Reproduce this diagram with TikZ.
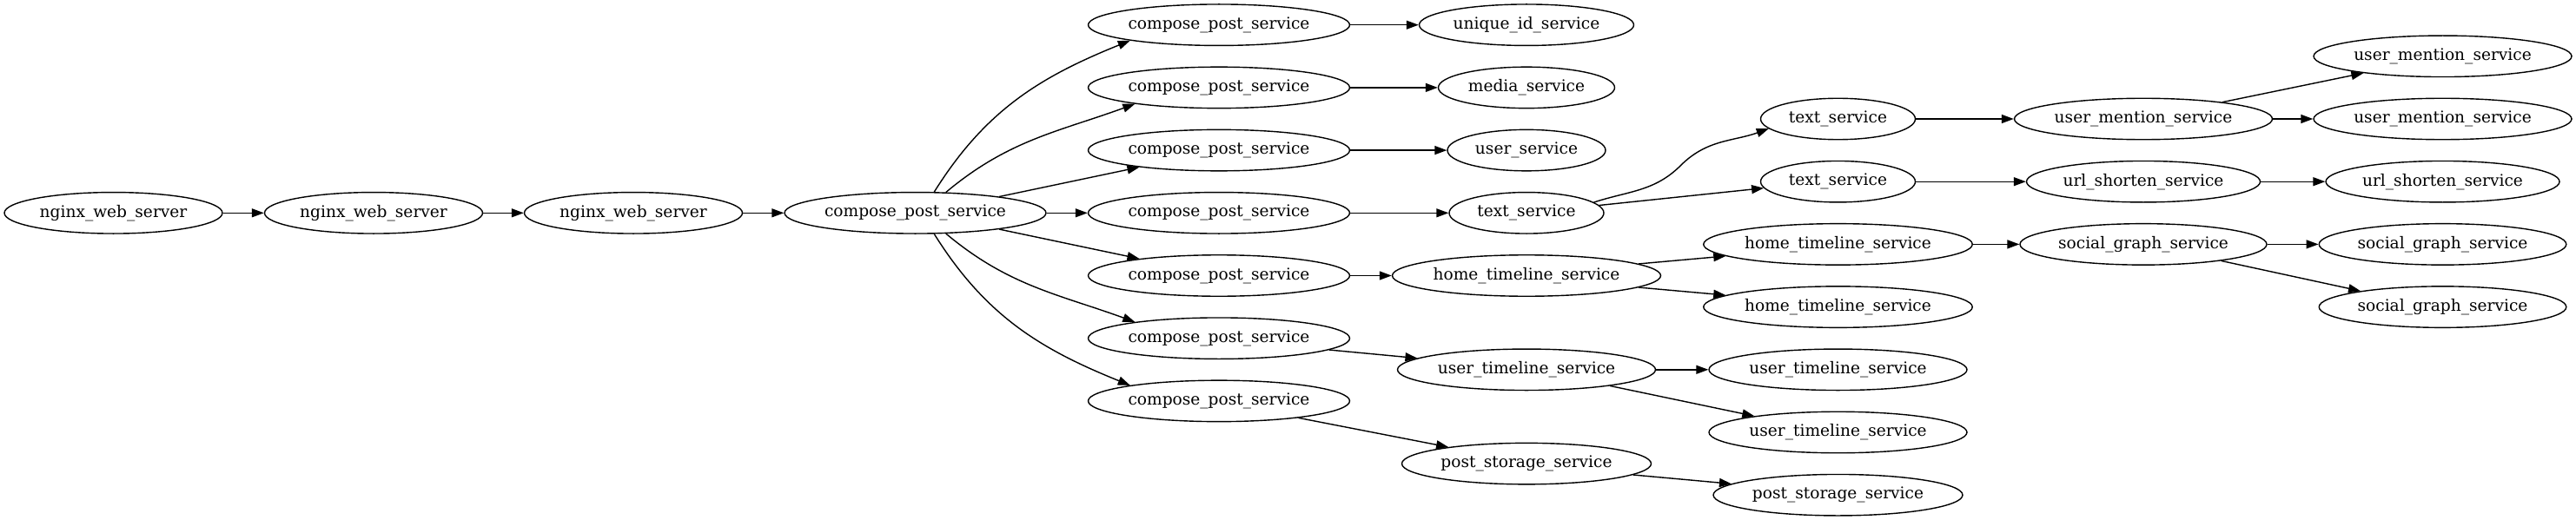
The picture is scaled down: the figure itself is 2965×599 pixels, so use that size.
\documentclass[tikz,border=0pt]{standalone}
\usepackage{fontspec}
\setmainfont{DejaVu Serif}
\usetikzlibrary{shapes.geometric,arrows.meta}

\begin{document}
\begin{tikzpicture}[x=0.5pt,y=0.5pt,
    svc/.style={draw,ellipse,inner sep=0pt,minimum height=23.75pt,line width=0.7pt,
      font=\fontsize{9.3}{11}\selectfont},
    link/.style={line width=0.7pt,-{Triangle[length=7pt,width=5pt]}}]
  \useasboundingbox (0,0) rectangle (2965,-599);

  %% nginx chain
  \node[svc,minimum width=125.5pt] (ngxA) at (130.5,-245.3) {nginx\_web\_server};
  \node[svc,minimum width=125.5pt] (ngxB) at (430,-245.3) {nginx\_web\_server};
  \node[svc,minimum width=125.5pt] (ngxC) at (729,-245.3) {nginx\_web\_server};
  \node[svc,minimum width=150.5pt] (cps) at (1053.5,-245.3) {compose\_post\_service};

  %% compose_post_service fan out
  \node[svc,minimum width=150.5pt] (cps1) at (1403,-28.7) {compose\_post\_service};
  \node[svc,minimum width=150.5pt] (cps2) at (1403,-100.9) {compose\_post\_service};
  \node[svc,minimum width=150.5pt] (cps3) at (1403,-173.1) {compose\_post\_service};
  \node[svc,minimum width=150.5pt] (cps4) at (1403,-245.3) {compose\_post\_service};
  \node[svc,minimum width=150.5pt] (cps5) at (1403,-317.5) {compose\_post\_service};
  \node[svc,minimum width=150.5pt] (cps6) at (1403,-389.7) {compose\_post\_service};
  \node[svc,minimum width=150.5pt] (cps7) at (1403,-461.9) {compose\_post\_service};

  %% services called by compose_post_service
  \node[svc,minimum width=123.5pt] (uid) at (1757,-28.7) {unique\_id\_service};
  \node[svc,minimum width=101.5pt] (media) at (1757,-100.9) {media\_service};
  \node[svc,minimum width=91pt] (user) at (1757,-173.1) {user\_service};
  \node[svc,minimum width=89pt] (text) at (1757,-245.3) {text\_service};
  \node[svc,minimum width=154.5pt] (htl) at (1757,-317.5) {home\_timeline\_service};
  \node[svc,minimum width=148.5pt] (utl) at (1757,-425.8) {user\_timeline\_service};
  \node[svc,minimum width=143.5pt] (ps) at (1757,-534.1) {post\_storage\_service};

  %% next level
  \node[svc,minimum width=89pt] (text1) at (2115.5,-137) {text\_service};
  \node[svc,minimum width=89pt] (text2) at (2115.5,-209.2) {text\_service};
  \node[svc,minimum width=154.75pt] (htl1) at (2115.5,-281.4) {home\_timeline\_service};
  \node[svc,minimum width=154.75pt] (htl2) at (2115.5,-353.6) {home\_timeline\_service};
  \node[svc,minimum width=148.5pt] (utl1) at (2115.5,-425.8) {user\_timeline\_service};
  \node[svc,minimum width=148.5pt] (utl2) at (2115.5,-498) {user\_timeline\_service};
  \node[svc,minimum width=143.5pt] (ps2) at (2115.5,-570.2) {post\_storage\_service};

  \node[svc,minimum width=148.5pt] (um) at (2467,-137) {user\_mention\_service};
  \node[svc,minimum width=134.5pt] (url) at (2467,-209.2) {url\_shorten\_service};
  \node[svc,minimum width=142pt] (sg) at (2467,-281.4) {social\_graph\_service};

  \node[svc,minimum width=148.5pt] (um1) at (2811.5,-64.8) {user\_mention\_service};
  \node[svc,minimum width=148.5pt] (um2) at (2811.5,-137) {user\_mention\_service};
  \node[svc,minimum width=134.5pt] (url2) at (2811.5,-209.2) {url\_shorten\_service};
  \node[svc,minimum width=142.3pt] (sg1) at (2811.5,-281.4) {social\_graph\_service};
  \node[svc,minimum width=142.3pt] (sg2) at (2811.5,-353.6) {social\_graph\_service};

  %% edges
  \draw[link] (ngxA) -- (ngxB);
  \draw[link] (ngxB) -- (ngxC);
  \draw[link] (ngxC) -- (cps);

  \draw[link] (cps.48) to[out=58,in=202] (cps1.190);
  \draw[link] (cps.34) to[out=40,in=200] (cps2.191);
  \draw[link] (cps.11) -- (cps3.192);
  \draw[link] (cps) -- (cps4);
  \draw[link] (cps.-11) -- (cps5.168);
  \draw[link] (cps.-34) to[out=-40,in=160] (cps6.169);
  \draw[link] (cps.-48) to[out=-58,in=158] (cps7.170);

  \draw[link] (cps1) -- (uid);
  \draw[link] (cps2) -- (media);
  \draw[link] (cps3) -- (user);
  \draw[link] (cps4) -- (text);
  \draw[link] (cps5) -- (htl);
  \draw[link] (cps6.-6) -- (utl.174);
  \draw[link] (cps7.-12) -- (ps.168);

  \draw[link] (text.9) to[out=18,in=225] ++(100,42.5) to[out=45,in=200] (text1.188);
  \draw[link] (text.6) -- (text2.185);
  \draw[link] (htl.6) -- (htl1.186);
  \draw[link] (htl.-6) -- (htl2.174);
  \draw[link] (utl) -- (utl1);
  \draw[link] (utl.-11) -- (utl2.169);
  \draw[link] (ps.-6) -- (ps2.174);

  \draw[link] (text1) -- (um);
  \draw[link] (text2) -- (url);
  \draw[link] (htl1) -- (sg);

  \draw[link] (um.12) -- (um1.192);
  \draw[link] (um) -- (um2);
  \draw[link] (url) -- (url2);
  \draw[link] (sg) -- (sg1);
  \draw[link] (sg.-12) -- (sg2.169);
\end{tikzpicture}
\end{document}
